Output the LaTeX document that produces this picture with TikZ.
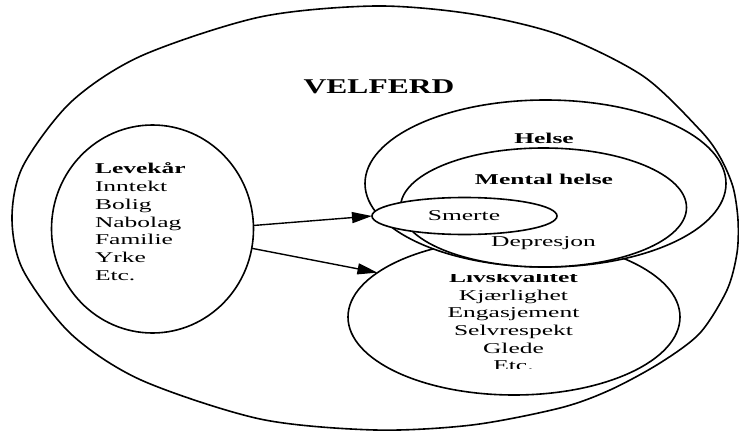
\documentclass[tikz,border=0pt]{standalone}
\usepackage{fontspec}
\setmainfont{Liberation Serif}
\usetikzlibrary{shapes.geometric,arrows.meta}
\begin{document}
\begin{tikzpicture}[x=1pt,y=-1pt, line width=1.6pt,
  oval/.style={draw, ellipse, inner sep=0pt, outer sep=0pt},
  txt/.style={inner sep=0pt, outer sep=0pt, font=\fontsize{15}{17.7}\selectfont},
  arr/.style={-{Triangle[length=20pt,width=11pt]}, line width=1.4pt}]
\useasboundingbox (0,0) rectangle (739,433);
% outer VELFERD shape
\draw plot[smooth cycle] coordinates {(375,6) (472,14) (560,35) (643,76) (700,130) (720,157) (733,187) (738,220) (737,253) (727,290) (700,333) (660,363) (610,390) (560,408) (472,425) (375,430) (260,419) (141,380) (71,334) (23,270) (12,218) (23,166) (71,102) (141,56) (260,17)};
\node[inner sep=0pt, anchor=base, font=\fontsize{21}{25}\selectfont\bfseries] (velferd) at (379,93.3) {\scalebox{1.5}[1]{VELFERD}};
% Levekaar
\node[oval, minimum width=202pt, minimum height=208pt] (lev) at (152.5,229) {};
\node[txt, anchor=base west] (levtxt) at (95,174) {\scalebox{1.7}[1]{\begin{tabular}[t]{@{}l@{}}\textbf{Levekår}\\Inntekt\\Bolig\\Nabolag\\Familie\\Yrke\\Etc.\end{tabular}}};
% Livskvalitet
\node[oval, minimum width=332pt, minimum height=156pt] (liv) at (514,317) {};
\begin{scope}
\clip (400,274) rectangle (630,368);
\node[txt, anchor=base] (livtxt) at (513.5,282.3) {\scalebox{1.7}[1]{\begin{tabular}[t]{@{}c@{}}\textbf{Livskvalitet}\\Kjærlighet\\Engasjement\\Selvrespekt\\Glede\\Etc.\end{tabular}}};
\end{scope}
% Helse, Mental helse, Smerte
\node[oval, fill=white, minimum width=361pt, minimum height=167pt] (helse) at (545.5,183.5) {};
\node[oval, fill=white, minimum width=286pt, minimum height=119pt] (mental) at (543.5,207.5) {};
\node[oval, fill=white, minimum width=185pt, minimum height=37pt] (smerte) at (464.5,216) {};
\node[txt, anchor=base] (helsetxt) at (544,143.3) {\scalebox{1.7}[1]{\textbf{Helse}}};
\node[txt, anchor=base] (mentaltxt) at (544,185) {\scalebox{1.7}[1]{\textbf{Mental helse}}};
\node[txt, anchor=base] (smertetxt) at (464,220.7) {\scalebox{1.7}[1]{Smerte}};
\node[txt, anchor=base] (deptxt) at (543.5,246.7) {\scalebox{1.7}[1]{Depresjon}};
% arrows
\draw[arr] (lev.2) -- (smerte.west);
\draw[arr] (lev.-11) -- (liv.162.8);
\end{tikzpicture}
\end{document}
